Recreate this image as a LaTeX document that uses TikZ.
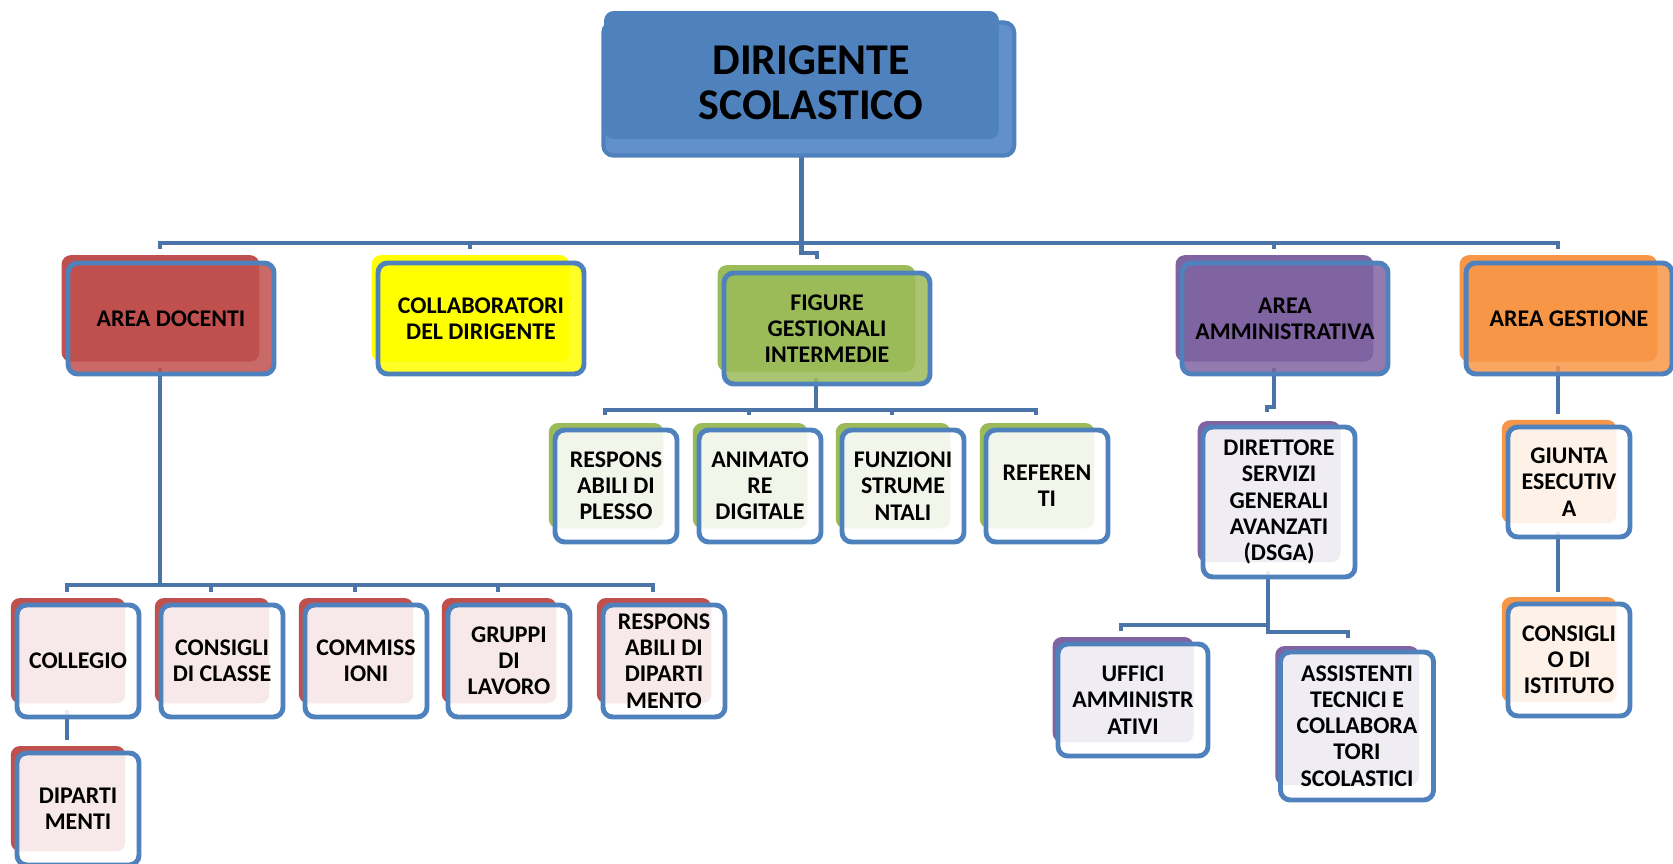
\documentclass[tikz,border=0pt]{standalone}
\usepackage{fontspec}
\setmainfont{Carlito}
\usetikzlibrary{positioning}
\usetikzlibrary{calc}
\usetikzlibrary{shadows}
\usetikzlibrary{backgrounds}

\definecolor{boxblue}{HTML}{4F81BD}
\definecolor{lineblue}{HTML}{4A74AA}
\definecolor{dirback}{HTML}{6190CA}
\definecolor{docred}{HTML}{C0504D}
\definecolor{collyellow}{HTML}{FFFF00}
\definecolor{figgreen}{HTML}{9BBB59}
\definecolor{ammpurple}{HTML}{8064A2}
\definecolor{gestorange}{HTML}{F79646}

\tikzset{
  orgbox/.style={rectangle, rounded corners=5.5pt, draw=boxblue, line width=2.8pt,
    align=center, inner sep=0pt, outer sep=0pt, text opacity=1,
    font=\bfseries\fontsize{13.6}{14.9}\selectfont},
  area/.style={orgbox, fill=#1, fill opacity=.85,
    general shadow={fill=#1, fill opacity=1, draw=none, shadow scale=.96,
      shadow xshift=-0.22cm, shadow yshift=0.21cm},
    minimum width=4.12cm, minimum height=2.22cm},
  unit/.style={orgbox, fill=white, fill opacity=.88,
    general shadow={fill=#1, fill opacity=1, draw=none, shadow scale=.94,
      shadow xshift=-0.21cm, shadow yshift=0.22cm},
    minimum width=2.44cm, minimum height=2.24cm},
  conn/.style={draw=lineblue, line width=2.3pt}
}

\begin{document}
\begin{tikzpicture}[x=0.02cm, y=-0.02cm]
    \useasboundingbox (0,0) rectangle (1673,864);

    % Nodes
    \node[orgbox, fill=boxblue, draw=none, minimum width=7.9cm, minimum height=2.56cm,
      font=\bfseries\fontsize{25}{25.5}\selectfont,
      general shadow={fill=dirback, draw=boxblue, line width=2.3pt, shadow scale=1.04,
        shadow xshift=0.14cm, shadow yshift=-0.27cm}]
      (dir) at (801.5,75) {\rule{0pt}{\dimexpr0.645em+0.32cm\relax}\hspace*{0.38cm}DIRIGENTE\\\hspace*{0.38cm}SCOLASTICO};

    \node[area=docred] (adoc) at (171,318.5) {AREA DOCENTI};
    \node[area=collyellow] (coll) at (481,318.5) {COLLABORATORI\\DEL DIRIGENTE};
    \node[area=figgreen] (fig) at (827,328.5) {FIGURE\\GESTIONALI\\INTERMEDIE};
    \node[area=ammpurple] (amm) at (1285,318.5) {AREA\\AMMINISTRATIVA};
    \node[area=gestorange] (gest) at (1569,318.5) {AREA GESTIONE};

    \node[unit=figgreen] (rpl) at (616,486) {RESPONS\\ABILI DI\\PLESSO};
    \node[unit=figgreen] (ani) at (760,486) {ANIMATO\\RE\\DIGITALE};
    \node[unit=figgreen] (fun) at (903,486) {FUNZIONI\\STRUME\\NTALI};
    \node[unit=figgreen] (ref) at (1047,486) {REFEREN\\TI};

    \node[unit=docred] (colg) at (78,661) {COLLEGIO};
    \node[unit=docred] (cons) at (222,661) {CONSIGLI\\DI CLASSE};
    \node[unit=docred] (comm) at (366,661) {COMMISS\\IONI};
    \node[unit=docred] (grup) at (509,661) {GRUPPI\\DI\\LAVORO};
    \node[unit=docred] (rdip) at (664,661) {RESPONS\\ABILI DI\\DIPARTI\\MENTO};
    \node[unit=docred] (dipa) at (78,809) {DIPARTI\\MENTI};

    \node[unit=ammpurple, minimum width=3.04cm, minimum height=3cm] (dsga) at (1279,502) {DIRETTORE\\SERVIZI\\GENERALI\\AVANZATI\\(DSGA)};
    \node[unit=ammpurple, minimum width=3cm] (uff) at (1133,700) {UFFICI\\AMMINISTR\\ATIVI};
    \node[unit=ammpurple, minimum width=3.06cm, minimum height=2.96cm] (ass) at (1357,726) {ASSISTENTI\\TECNICI E\\COLLABORA\\TORI\\SCOLASTICI};

    \node[unit=gestorange, minimum height=2.2cm] (giun) at (1569,482) {GIUNTA\\ESECUTIV\\A};
    \node[unit=gestorange] (cist) at (1569,660) {CONSIGLI\\O DI\\ISTITUTO};

    % Edges
    \begin{scope}[on background layer]
    \draw[conn] (dir.south) -- ++(0,114) -| ($(fig.north)+(-10,-14)$);
    \draw[conn] ($(adoc.north)+(-11,-14)$) -- ++(0,-6) -| ($(gest.north)+(-11,-14)$);
    \draw[conn] ($(coll.north)+(-11,-14)$) -- ++(0,-6);
    \draw[conn] ($(amm.north)+(-11,-14)$) -- ++(0,-6);

    \draw[conn] ($(adoc.south)+(-11,-6)$) -- ++(0,217);
    \draw[conn] ($(colg.north)+(-11,-13)$) -- ++(0,-7) -| ($(rdip.north)+(-11,-13)$);
    \draw[conn] ($(cons.north)+(-11,-13)$) -- ++(0,-7);
    \draw[conn] ($(comm.north)+(-11,-13)$) -- ++(0,-7);
    \draw[conn] ($(grup.north)+(-11,-13)$) -- ++(0,-7);
    \draw[conn] ($(colg.south)+(-11,-7)$) -- ($(dipa.north)+(-11,-13)$);

    \draw[conn] ($(fig.south)+(-11,-6)$) -- ++(0,32);
    \draw[conn] ($(rpl.north)+(-11,-15)$) -- ++(0,-5) -| ($(ref.north)+(-11,-15)$);
    \draw[conn] ($(ani.north)+(-11,-15)$) -- ++(0,-5);
    \draw[conn] ($(fun.north)+(-11,-15)$) -- ++(0,-5);

    \draw[conn] ($(amm.south)+(-11,-6)$) -- ++(0,39) -| ($(dsga.north)+(-12,-15)$);
    \draw[conn] ($(dsga.south)+(-11,-6)$) -- ++(0,54) -| ($(uff.north)+(-12,-13)$);
    \draw[conn] ($(dsga.south)+(-11,-6)$) -- ++(0,61) -| ($(ass.north)+(-9,-14)$);

    \draw[conn] ($(gest.south)+(-11,-8)$) -- ($(giun.north)+(-11,-13)$);
    \draw[conn] ($(giun.south)+(-11,-5)$) -- ($(cist.north)+(-11,-12)$);
    \end{scope}
\end{tikzpicture}
\end{document}
